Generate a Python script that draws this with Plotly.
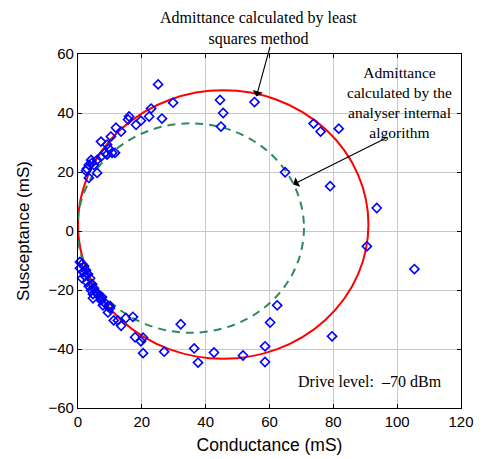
import plotly.graph_objects as go

# Measured admittance points (conductance G, susceptance B), mS
G = [25.1, 29.8, 22.9, 22.3, 26.3, 16.0, 15.7, 19.7, 18.2, 11.9, 13.5, 10.3, 7.2, 9.1, 9.7,
     11.6, 8.5, 7.2, 6.0, 4.1, 3.4, 2.8, 2.5, 6.0, 3.4, 4.4, 5.0, 9.1, 10.7,
     44.5, 45.5, 44.8, 55.3, 73.8, 76.0, 81.7, 64.9, 79.0, 93.6, 90.5, 105.4,
     62.4, 60.2, 79.6, 58.6, 58.6, 51.7, 42.6, 37.6, 36.4, 32.2, 27.0, 20.4, 20.4, 17.9, 19.7,
     17.2, 15.0, 13.5, 12.5, 11.2, 9.4, 10.0, 7.8, 7.5, 4.7,
     0.6, 1.3, 1.9, 0.6, 2.5, 1.6, 3.1, 2.2, 3.8, 1.3, 2.8, 4.4, 3.4, 5.0, 4.1, 5.6, 6.3,
     6.6, 4.7, 7.2, 8.2, 9.4, 10.0]
B = [49.7, 43.5, 41.5, 38.8, 38.1, 38.8, 37.8, 37.4, 36.0, 35.0, 33.7, 32.0, 30.3, 29.3, 27.9,
     26.5, 26.5, 25.2, 24.1, 24.1, 22.4, 21.1, 20.4, 19.7, 18.0, 23.1, 22.4, 25.9, 26.5,
     44.4, 40.0, 35.4, 43.7, 36.4, 33.7, 34.7, 19.9, 15.2, 7.8, -5.2, -12.9,
     -25.2, -31.0, -35.7, -39.1, -44.4, -42.2, -41.2, -44.6, -39.8, -31.6, -40.9, -41.4, -36.2, -36.0, -37.4,
     -29.1, -29.5, -32.1, -30.3, -30.3, -27.6, -25.5, -25.2, -22.4, -21.4,
     -10.5, -11.2, -11.9, -12.6, -13.3, -13.9, -14.6, -15.3, -16.0, -16.0, -17.3, -18.0, -18.7, -19.4, -20.1, -20.7, -21.4,
     -22.1, -22.8, -23.5, -24.1, -25.5, -26.2]

# Fitted circles: centre (G, B) and radius, mS
ls_center = [45.5, 2.2]
ls_radius = 45.5
int_center = [35.3, 1.0]
int_radius = 35.5

x_ticks = [0, 20, 40, 60, 80, 100, 120]
y_ticks = [-60, -40, -20, 0, 20, 40, 60]

fig = go.Figure()
fig.add_trace(go.Scatter(
    x=G, y=B, mode="markers",
    marker=dict(symbol="diamond-open", size=7, color="#0000ff", line=dict(width=1.6, color="#0000ff")),
    showlegend=False, cliponaxis=False))

fig.add_shape(type="circle", xref="x", yref="y", layer="between",
              x0=ls_center[0] - ls_radius, x1=ls_center[0] + ls_radius,
              y0=ls_center[1] - ls_radius, y1=ls_center[1] + ls_radius,
              line=dict(color="#ff0000", width=2))
fig.add_shape(type="circle", xref="x", yref="y", layer="between",
              x0=int_center[0] - int_radius, x1=int_center[0] + int_radius,
              y0=int_center[1] - int_radius, y1=int_center[1] + int_radius,
              line=dict(color="#2e8b57", width=2, dash="8px,6px"))

serif = "Liberation Serif, Times New Roman, serif"
sans = "Liberation Sans, Arial, sans-serif"
fig.add_annotation(xref="paper", yref="paper", x=0.47, y=1.1299, xanchor="center", yanchor="top",
                   text="Admittance calculated by least<br>squares method", showarrow=False, borderpad=0,
                   font=dict(family=serif, size=16, color="black"))
fig.add_annotation(x=55.9, y=45.6, ax=14, ay=-51, axref="pixel", ayref="pixel",
                   text="", showarrow=True, arrowhead=1, arrowsize=1.6, arrowwidth=1.1, arrowcolor="black")
fig.add_annotation(xref="paper", yref="paper", x=0.84, y=0.862, xanchor="center", yanchor="middle",
                   text="Admittance<br>calculated by the<br>analyser internal<br>algorithm", showarrow=False,
                   font=dict(family=serif, size=15.5, color="black"))
fig.add_annotation(x=67.4, y=15.8, ax=94, ay=-47, axref="pixel", ayref="pixel",
                   text="", showarrow=True, arrowhead=1, arrowsize=1.6, arrowwidth=1.1, arrowcolor="black")
fig.add_annotation(x=91.5, y=-51, xanchor="center", yanchor="middle",
                   text="Drive level:&nbsp;&nbsp;\u201370 dBm", showarrow=False,
                   font=dict(family=serif, size=16, color="black"))

axis_common = dict(showgrid=True, gridcolor="#c8c8c8", gridwidth=1, zeroline=False,
                   showline=True, linecolor="black", linewidth=1.2, mirror="allticks",
                   ticks="inside", ticklen=4, tickcolor="black", automargin=False,
                   tickfont=dict(family=sans, size=15, color="black"))
fig.update_xaxes(range=[0, 120], tickvals=x_ticks,
                 title=dict(text="Conductance (mS)", font=dict(family=sans, size=17.5, color="black"), standoff=9),
                 **axis_common)
fig.update_yaxes(range=[-60, 60], tickvals=y_ticks,
                 title=dict(text="Susceptance (mS)", font=dict(family=sans, size=17, color="black"), standoff=14),
                 **axis_common)
fig.update_layout(width=483, height=459, margin=dict(l=70, r=30, t=46, b=59),
                  plot_bgcolor="white", paper_bgcolor="white", showlegend=False)

fig.write_html("out.html")
